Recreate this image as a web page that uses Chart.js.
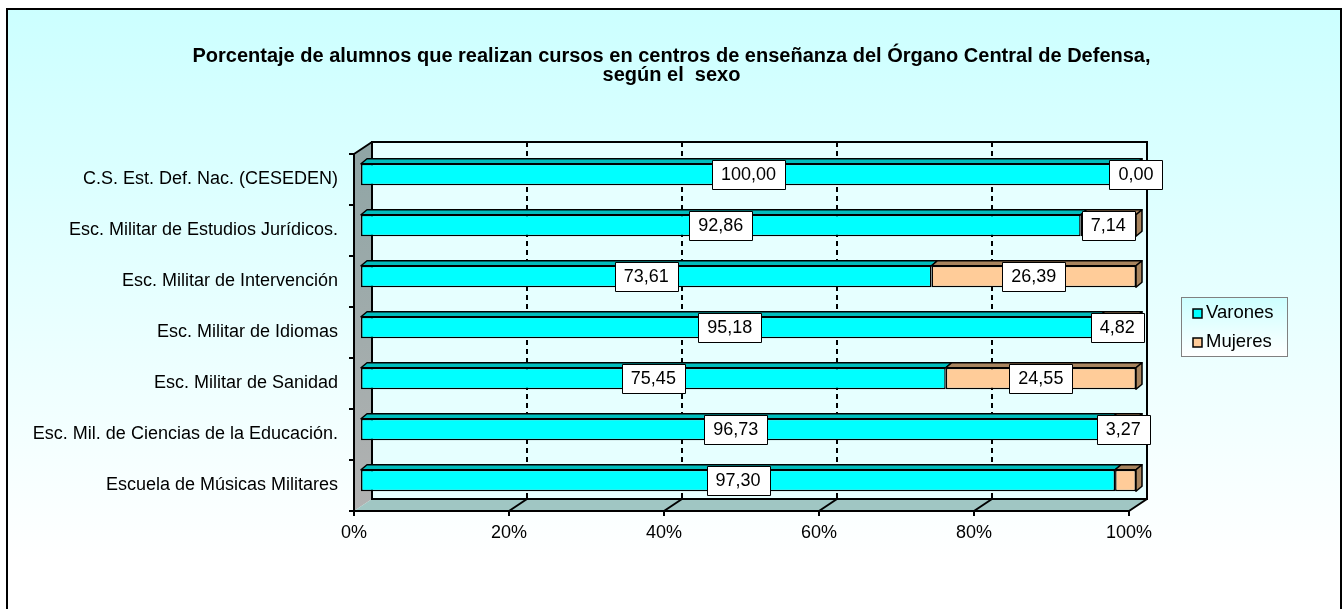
<!DOCTYPE html>
<html>
<head>
<meta charset="utf-8">
<script src="https://cdn.jsdelivr.net/npm/chart.js@4"></script>
<style>
  html, body { margin: 0; padding: 0; background: #fff; }
  #wrap { width: 1343px; height: 609px; position: relative; }
</style>
</head>
<body>
<div id="wrap"><canvas id="myChart"></canvas></div>
<script>
const categorias = [
    'C.S. Est. Def. Nac. (CESEDEN)',
    'Esc. Militar de Estudios Jurídicos.',
    'Esc. Militar de Intervención',
    'Esc. Militar de Idiomas',
    'Esc. Militar de Sanidad',
    'Esc. Mil. de Ciencias de la Educación.',
    'Escuela de Músicas Militares'
];
const varones = [100.00, 92.86, 73.61, 95.18, 75.45, 96.73, 97.30];
const mujeres = [0.00, 7.14, 26.39, 4.82, 24.55, 3.27, 2.70];
// la última barra de mujeres no lleva etiqueta en el original
const etiquetaMujeres = [true, true, true, true, true, true, false];
const ticksX = [0, 20, 40, 60, 80, 100];

const FONT = 'Arial, "Liberation Sans", sans-serif';
// desplazamientos del efecto 3D
const FRONT = { x: -7, y: 5 };
const DEPTH = { x: 18, y: -12 };
const BAR_D = { x: 6, y: -5 };

function fmt(v) { return v.toFixed(2).replace('.', ','); }

function poly(ctx, pts, fill, stroke, lw) {
    ctx.beginPath();
    ctx.moveTo(pts[0][0], pts[0][1]);
    for (let i = 1; i < pts.length; i++) ctx.lineTo(pts[i][0], pts[i][1]);
    ctx.closePath();
    if (fill) { ctx.fillStyle = fill; ctx.fill(); }
    if (stroke) { ctx.strokeStyle = stroke; ctx.lineWidth = lw || 1; ctx.stroke(); }
}

const fondo = {
    id: 'fondo',
    beforeDraw(chart) {
        const ctx = chart.ctx;
        ctx.save();
        ctx.fillStyle = '#fff';
        ctx.fillRect(0, 0, chart.width, chart.height);
        const g = ctx.createLinearGradient(0, 8, 0, 560);
        g.addColorStop(0, '#CCFFFF');
        g.addColorStop(1, '#FFFFFF');
        ctx.fillStyle = g;
        ctx.fillRect(7, 9, chart.width - 9, chart.height);
        ctx.strokeStyle = '#000';
        ctx.lineWidth = 2;
        ctx.beginPath();
        ctx.moveTo(7, chart.height + 2);
        ctx.lineTo(7, 9);
        ctx.lineTo(chart.width - 2, 9);
        ctx.lineTo(chart.width - 2, chart.height + 2);
        ctx.stroke();
        ctx.restore();
    }
};

const paredes = {
    id: 'paredes',
    beforeDatasetsDraw(chart) {
        const { ctx, chartArea: a, scales: { x } } = chart;
        const fl = x.getPixelForValue(0) + FRONT.x, fr = x.getPixelForValue(100) + FRONT.x;
        const ft = a.top + FRONT.y, fb = a.bottom + FRONT.y;
        const bl = fl + DEPTH.x, br = fr + DEPTH.x, bt = ft + DEPTH.y, bb = fb + DEPTH.y;
        ctx.save();
        // pared del fondo
        ctx.fillStyle = '#E6FFFF';
        ctx.fillRect(bl, bt, br - bl, bb - bt);
        // pared lateral
        const gs = ctx.createLinearGradient(0, bt, 0, fb);
        gs.addColorStop(0, '#8FA5A5');
        gs.addColorStop(1, '#B2B2B2');
        poly(ctx, [[fl, ft], [bl, bt], [bl, bb], [fl, fb]], gs);
        // suelo
        poly(ctx, [[fl, fb], [bl, bb], [br, bb], [fr, fb]], '#A0C6C3');
        // rejilla discontinua
        ctx.strokeStyle = '#000';
        ctx.lineWidth = 2;
        ticksX.forEach(v => {
            if (v === 0 || v === 100) return;
            const gx = x.getPixelForValue(v) + FRONT.x + DEPTH.x;
            ctx.setLineDash([5, 4]);
            ctx.beginPath(); ctx.moveTo(gx, bt); ctx.lineTo(gx, bb); ctx.stroke();
            ctx.setLineDash([]);
            ctx.beginPath(); ctx.moveTo(gx, bb); ctx.lineTo(gx - DEPTH.x, fb); ctx.stroke();
        });
        // bordes
        ctx.lineWidth = 2;
        ctx.strokeRect(bl, bt, br - bl, bb - bt);
        ctx.beginPath();
        ctx.moveTo(fl, ft); ctx.lineTo(bl, bt);
        ctx.moveTo(fr, fb); ctx.lineTo(br, bb);
        ctx.moveTo(fl, ft); ctx.lineTo(fl, fb); ctx.lineTo(fr, fb);
        ctx.stroke();
        // marcas de los ejes
        const n = categorias.length;
        ctx.beginPath();
        for (let i = 0; i <= n; i++) {
            const ty = ft + i * (fb - ft) / n;
            ctx.moveTo(fl - 5, ty); ctx.lineTo(fl, ty);
        }
        ticksX.forEach(v => {
            const tx = x.getPixelForValue(v) + FRONT.x;
            ctx.moveTo(tx, fb); ctx.lineTo(tx, fb + 5);
        });
        ctx.stroke();
        ctx.restore();
    },
    afterDatasetsDraw(chart) {
        const ctx = chart.ctx;
        const metas = [chart.getDatasetMeta(0), chart.getDatasetMeta(1)];
        const caras = ['#00BDBD', '#A8845E'];
        ctx.save();
        ctx.lineJoin = 'round';
        categorias.forEach((c, i) => {
            let ultimo = null;
            metas.forEach((m, d) => {
                const b = m.data[i].getProps(['x', 'y', 'base', 'height'], true);
                if (b.x - b.base < 0.5) return;
                const t = b.y - b.height / 2;
                poly(ctx, [[b.base, t], [b.x, t], [b.x + BAR_D.x, t + BAR_D.y], [b.base + BAR_D.x, t + BAR_D.y]], caras[d], '#000', 1.5);
                ultimo = { b, d };
            });
            if (ultimo) {
                const { b, d } = ultimo;
                const t = b.y - b.height / 2, u = b.y + b.height / 2;
                poly(ctx, [[b.x, t], [b.x + BAR_D.x, t + BAR_D.y], [b.x + BAR_D.x, u + BAR_D.y], [b.x, u]], caras[d], '#000', 1.5);
            }
        });
        // etiquetas de datos
        ctx.font = '18px ' + FONT;
        ctx.textAlign = 'center';
        ctx.textBaseline = 'middle';
        metas.forEach((m, d) => {
            m.data.forEach((el, i) => {
                if (d === 1 && !etiquetaMujeres[i]) return;
                const val = d === 0 ? varones[i] : mujeres[i];
                const b = el.getProps(['x', 'y', 'base'], true);
                const cx = (b.x + b.base) / 2;
                const txt = fmt(val);
                const w = ctx.measureText(txt).width + 18, h = 29;
                ctx.fillStyle = '#fff';
                ctx.fillRect(Math.round(cx - w / 2) + 0.5, Math.round(b.y - h / 2) + 0.5, Math.round(w), h);
                ctx.strokeStyle = '#000';
                ctx.lineWidth = 1;
                ctx.strokeRect(Math.round(cx - w / 2) + 0.5, Math.round(b.y - h / 2) + 0.5, Math.round(w), h);
                ctx.fillStyle = '#000';
                ctx.fillText(txt, cx, b.y + 1);
            });
        });
        ctx.restore();
    }
};

const leyenda = {
    id: 'leyenda',
    afterDraw(chart) {
        const ctx = chart.ctx;
        const lx = 1181, ly = 297, lw = 106, lh = 59;
        ctx.save();
        const g = ctx.createLinearGradient(0, ly, 0, ly + lh);
        g.addColorStop(0, '#CCFFFF');
        g.addColorStop(1, '#FFFFFF');
        ctx.fillStyle = g;
        ctx.fillRect(lx, ly, lw, lh);
        ctx.strokeStyle = '#808080';
        ctx.lineWidth = 1;
        ctx.strokeRect(lx + 0.5, ly + 0.5, lw, lh);
        ctx.font = '18.5px ' + FONT;
        ctx.textBaseline = 'middle';
        ctx.textAlign = 'left';
        chart.data.datasets.forEach((ds, i) => {
            const yy = ly + 16 + i * 29;
            ctx.fillStyle = ds.backgroundColor;
            ctx.fillRect(lx + 12, yy - 4, 9, 9);
            ctx.strokeStyle = '#000';
            ctx.lineWidth = 1.5;
            ctx.strokeRect(lx + 12, yy - 4, 9, 9);
            ctx.fillStyle = '#000';
            ctx.fillText(ds.label, lx + 25, yy);
        });
        ctx.restore();
    }
};

document.addEventListener('DOMContentLoaded', () => {
    const ctx = document.getElementById('myChart').getContext('2d');
    new Chart(ctx, {
        type: 'bar',
        data: {
            labels: categorias,
            datasets: [{
                label: 'Varones',
                data: varones,
                backgroundColor: '#00FFFF',
                borderColor: '#000',
                borderWidth: 1.5,
                borderSkipped: false,
                barPercentage: 0.42,
                categoryPercentage: 1
            }, {
                label: 'Mujeres',
                data: mujeres,
                backgroundColor: '#FFCC99',
                borderColor: '#000',
                borderWidth: 1.5,
                borderSkipped: false,
                barPercentage: 0.42,
                categoryPercentage: 1
            }]
        },
        options: {
            indexAxis: 'y',
            responsive: true,
            maintainAspectRatio: false,
            animation: false,
            layout: { padding: 0 },
            plugins: {
                legend: { display: false },
                tooltip: { enabled: false },
                title: {
                    display: true,
                    text: ['Porcentaje de alumnos que realizan cursos en centros de enseñanza del Órgano Central de Defensa,', 'según el  sexo'],
                    color: '#000',
                    font: { family: FONT, size: 20, weight: 'bold', lineHeight: 0.95 },
                    padding: { top: 47, bottom: 64 }
                }
            },
            scales: {
                x: {
                    stacked: true,
                    min: 0,
                    max: 100,
                    grid: { display: false, drawTicks: false },
                    border: { display: false },
                    afterFit: (s) => { s.height = 103; },
                    ticks: {
                        stepSize: 20,
                        padding: 16,
                        labelOffset: FRONT.x,
                        color: '#000',
                        font: { family: FONT, size: 18 },
                        callback: (v) => v + '%'
                    }
                },
                y: {
                    stacked: true,
                    grid: { display: false, drawTicks: false },
                    border: { display: false },
                    afterFit: (s) => { s.width = 361; },
                    ticks: {
                        padding: 23,
                        labelOffset: FRONT.y,
                        color: '#000',
                        font: { family: FONT, size: 18 }
                    }
                },
                // reserva el hueco de la leyenda a la derecha
                hueco: {
                    axis: 'y',
                    type: 'linear',
                    position: 'right',
                    grid: { display: false, drawTicks: false },
                    border: { display: false },
                    ticks: { display: false },
                    afterFit: (s) => { s.width = 207; }
                }
            }
        },
        plugins: [fondo, paredes, leyenda]
    });
});
</script>
</body>
</html>
